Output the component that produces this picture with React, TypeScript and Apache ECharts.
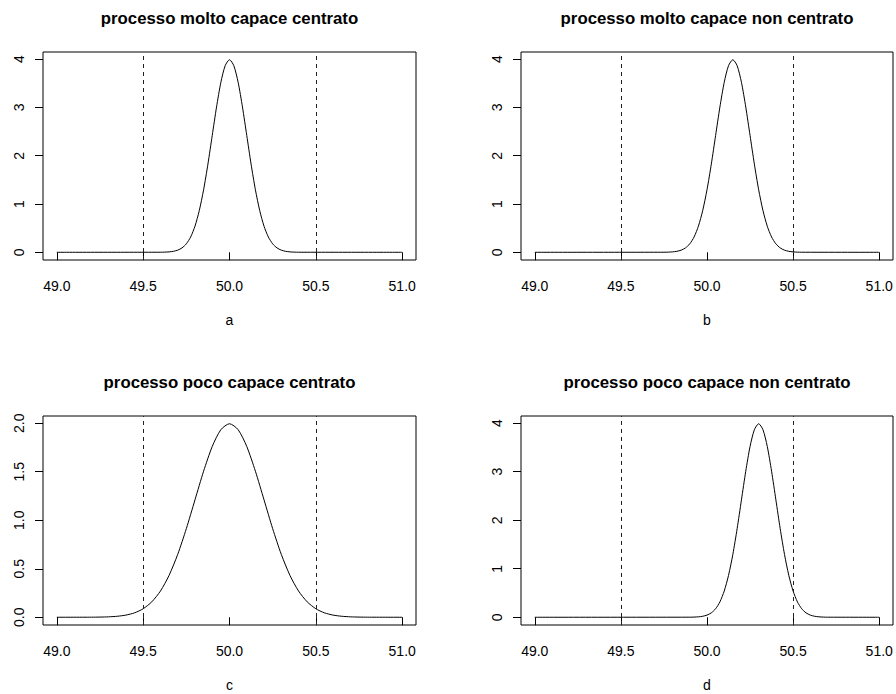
import React, { useEffect, useRef } from "react";
import * as echarts from "echarts";

// ---- data ----
const titles = [
  "processo molto capace centrato",
  "processo molto capace non centrato",
  "processo poco capace centrato",
  "processo poco capace non centrato",
];
const subLabels = ["a", "b", "c", "d"];
const limits = [49.5, 50.5];
const xTicks = [49.0, 49.5, 50.0, 50.5, 51.0];
const yTicksNarrow = [0, 1, 2, 3, 4];
const yTicksWide = [0, 0.5, 1.0, 1.5, 2.0];

const xsA = [49.0, 49.6, 49.625, 49.65, 49.675, 49.7, 49.725, 49.75, 49.775, 49.8, 49.825, 49.85, 49.875, 49.9, 49.925, 49.95, 49.975, 50.0, 50.025, 50.05, 50.075, 50.1, 50.125, 50.15, 50.175, 50.2, 50.225, 50.25, 50.275, 50.3, 50.325, 50.35, 50.375, 50.4, 51.0];
const ysA = [0, 0.0013, 0.0035, 0.0087, 0.0203, 0.0443, 0.0909, 0.175, 0.317, 0.54, 0.863, 1.295, 1.826, 2.42, 3.011, 3.521, 3.866, 3.989, 3.866, 3.521, 3.011, 2.42, 1.826, 1.295, 0.863, 0.54, 0.317, 0.175, 0.0909, 0.0443, 0.0203, 0.0087, 0.0035, 0.0013, 0];

const xsB = [49.0, 49.75, 49.775, 49.8, 49.825, 49.85, 49.875, 49.9, 49.925, 49.95, 49.975, 50.0, 50.025, 50.05, 50.075, 50.1, 50.125, 50.15, 50.175, 50.2, 50.225, 50.25, 50.275, 50.3, 50.325, 50.35, 50.375, 50.4, 50.425, 50.45, 50.475, 50.5, 50.525, 50.55, 51.0];
const ysB = [0, 0.0013, 0.0035, 0.0087, 0.0203, 0.0443, 0.0909, 0.175, 0.317, 0.54, 0.863, 1.295, 1.826, 2.42, 3.011, 3.521, 3.866, 3.989, 3.866, 3.521, 3.011, 2.42, 1.826, 1.295, 0.863, 0.54, 0.317, 0.175, 0.0909, 0.0443, 0.0203, 0.0087, 0.0035, 0.0013, 0];

const xsC = [49.0, 49.2, 49.25, 49.3, 49.35, 49.4, 49.45, 49.5, 49.55, 49.6, 49.65, 49.7, 49.75, 49.8, 49.85, 49.9, 49.95, 50.0, 50.05, 50.1, 50.15, 50.2, 50.25, 50.3, 50.35, 50.4, 50.45, 50.5, 50.55, 50.6, 50.65, 50.7, 50.75, 50.8, 51.0];
const ysC = [0, 0.0007, 0.0018, 0.0044, 0.0102, 0.0222, 0.0455, 0.0876, 0.1587, 0.27, 0.4315, 0.6476, 0.9132, 1.21, 1.5054, 1.7603, 1.9334, 1.9947, 1.9334, 1.7603, 1.5054, 1.21, 0.9132, 0.6476, 0.4315, 0.27, 0.1587, 0.0876, 0.0455, 0.0222, 0.0102, 0.0044, 0.0018, 0.0007, 0];

const xsD = [49.0, 49.9, 49.925, 49.95, 49.975, 50.0, 50.025, 50.05, 50.075, 50.1, 50.125, 50.15, 50.175, 50.2, 50.225, 50.25, 50.275, 50.3, 50.325, 50.35, 50.375, 50.4, 50.425, 50.45, 50.475, 50.5, 50.525, 50.55, 50.575, 50.6, 50.625, 50.65, 50.675, 50.7, 51.0];
const ysD = [0, 0.0013, 0.0035, 0.0087, 0.0203, 0.0443, 0.0909, 0.175, 0.317, 0.54, 0.863, 1.295, 1.826, 2.42, 3.011, 3.521, 3.866, 3.989, 3.866, 3.521, 3.011, 2.42, 1.826, 1.295, 0.863, 0.54, 0.317, 0.175, 0.0909, 0.0443, 0.0203, 0.0087, 0.0035, 0.0013, 0];

const yRangeNarrow = [-0.1596, 4.1489];
const yRangeWide = [-0.0798, 2.0745];
const xRange = [48.92, 51.08];

const FONT = "'Liberation Sans', Arial, Helvetica, sans-serif";

export default function App() {
  const ref = useRef<HTMLDivElement>(null);
  useEffect(() => {
    if (!ref.current) return;
    const chart = echarts.init(ref.current, null, { renderer: "svg" });

    const panels = [
      { xs: xsA, ys: ysA, yt: yTicksNarrow, yr: yRangeNarrow, dec: 0 },
      { xs: xsB, ys: ysB, yt: yTicksNarrow, yr: yRangeNarrow, dec: 0 },
      { xs: xsC, ys: ysC, yt: yTicksWide, yr: yRangeWide, dec: 1 },
      { xs: xsD, ys: ysD, yt: yTicksNarrow, yr: yRangeNarrow, dec: 0 },
    ];
    const boxes = [
      { left: 43, top: 52, width: 373, height: 208 },
      { left: 521, top: 52, width: 372, height: 208 },
      { left: 43, top: 416, width: 373, height: 209 },
      { left: 521, top: 416, width: 372, height: 209 },
    ];

    const grid = boxes.map((b) => ({
      ...b,
      show: true,
      borderColor: "#000",
      borderWidth: 1,
      backgroundColor: "transparent",
      containLabel: false,
    }));

    const xAxis = panels.map((p, i) => ({
      type: "value",
      gridIndex: i,
      min: xRange[0],
      max: xRange[1],
      axisLine: { show: false },
      splitLine: { show: false },
      axisTick: {
        show: true,
        inside: false,
        length: 8,
        customValues: xTicks,
        lineStyle: { color: "#000", width: 1 },
      },
      axisLabel: {
        show: true,
        customValues: xTicks,
        margin: 19,
        color: "#000",
        fontSize: 14,
        fontFamily: FONT,
        formatter: (v: number) => v.toFixed(1),
      },
    }));

    const yAxis = panels.map((p, i) => ({
      type: "value",
      gridIndex: i,
      min: p.yr[0],
      max: p.yr[1],
      axisLine: { show: false },
      splitLine: { show: false },
      axisTick: {
        show: true,
        inside: false,
        length: 8,
        customValues: p.yt,
        lineStyle: { color: "#000", width: 1 },
      },
      axisLabel: {
        show: true,
        customValues: p.yt,
        rotate: 90,
        margin: 17,
        color: "#000",
        fontSize: 14,
        fontFamily: FONT,
        formatter: (v: number) => v.toFixed(p.dec),
      },
    }));

    const series = panels.map((p, i) => ({
      type: "line",
      xAxisIndex: i,
      yAxisIndex: i,
      data: p.xs.map((x, k) => [x, p.ys[k]]),
      showSymbol: false,
      symbol: "none",
      smooth: 0.25,
      lineStyle: { color: "#000", width: 1 },
      z: 3,
      markLine: {
        silent: true,
        symbol: ["none", "none"],
        label: { show: false },
        lineStyle: { color: "#222", width: 1, type: [4, 4] },
        data: limits.map((v) => ({ xAxis: v })),
      },
    }));

    const graphic: any[] = [];
    boxes.forEach((b, i) => {
      const cx = b.left + b.width / 2;
      graphic.push({
        type: "text",
        x: cx,
        y: b.top - 34,
        style: {
          text: titles[i],
          fill: "#000",
          font: `bold 16.8px ${FONT}`,
          align: "center",
          verticalAlign: "middle",
        },
      });
      graphic.push({
        type: "text",
        x: cx,
        y: b.top + b.height + 60,
        style: {
          text: subLabels[i],
          fill: "#000",
          font: `14px ${FONT}`,
          align: "center",
          verticalAlign: "middle",
        },
      });
    });

    chart.setOption({
      animation: false,
      backgroundColor: "#fff",
      grid,
      xAxis,
      yAxis,
      series,
      graphic,
    } as any);

    return () => chart.dispose();
  }, []);

  return (
    <div
      ref={ref}
      style={{ position: "absolute", left: 0, top: 0, width: 896, height: 694 }}
    />
  );
}
